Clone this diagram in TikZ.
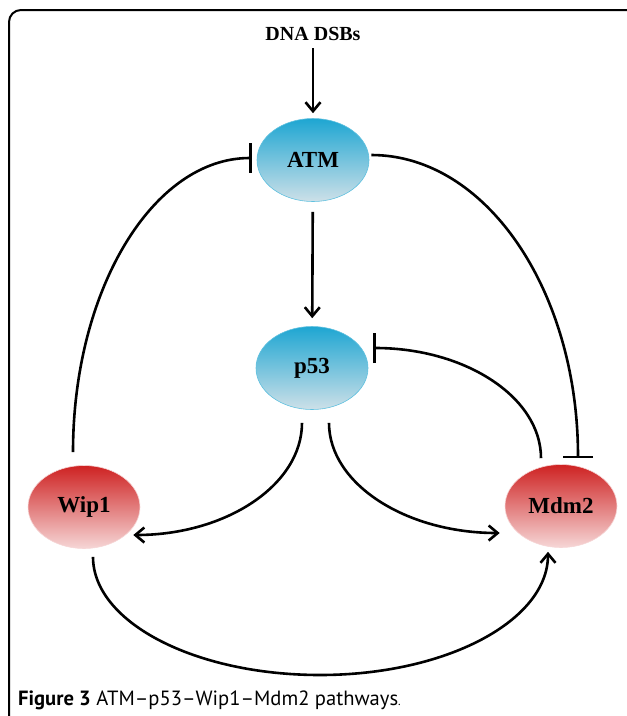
\documentclass[tikz,border=0pt]{standalone}
\usepackage{fontspec}
\setmainfont{Liberation Serif}
\newfontfamily\capfont{PT Sans}
\usepackage{tikz}
\usetikzlibrary{positioning,arrows.meta,calc,shapes.geometric}

\definecolor{bluetop}{RGB}{30,166,210}
\definecolor{bluemid}{RGB}{58,158,198}
\definecolor{bluebot}{RGB}{205,224,232}
\definecolor{redtop}{RGB}{206,34,34}
\definecolor{redmid}{RGB}{214,52,52}
\definecolor{redbot}{RGB}{246,214,214}

\tikzset{
  prot/.style={ellipse,minimum width=112pt,minimum height=83pt,inner sep=0pt,
    font=\fontsize{23}{26}\selectfont\bfseries},
  blueprot/.style={prot,draw=bluetop!70,line width=0.6pt,top color=bluetop,middle color=bluemid,bottom color=bluebot},
  redprot/.style={prot,draw=redbot,line width=0.6pt,top color=redtop,middle color=redmid,bottom color=redbot},
  act/.style={line width=2.6pt,-{Straight Barb[length=9pt,width=15pt]}},
  inh/.style={line width=2.6pt,-{Bar[width=30pt]}}
}

\begin{document}
\begin{tikzpicture}[x=1pt,y=-1pt]
  \useasboundingbox (0,0) rectangle (627,716);
  \draw[line width=2pt,rounded corners=12pt](9,717)--(9,10)--(628,10);
  % proteins
  \node[font=\fontsize{20}{24}\selectfont\bfseries] (dsb) at (313,34){DNA DSBs};
  \node[blueprot] (ATM) at (313,160){ATM};
  \node[blueprot] (p53) at (312,368){p53};
  \node[redprot] (Wip1) at (84,507){Wip1};
  \node[redprot] (Mdm2) at (561,506){Mdm2};
  % straight arrows
  \draw[act,shorten <=4pt,shorten >=5pt](dsb)--(ATM);
  \draw[act,shorten <=10pt,shorten >=8pt](ATM)--(p53);
  % feedback loops
  \draw[inh]([xshift=-11pt,yshift=13pt]Wip1.north) .. controls +(0,-162) and +(-99,0) .. ([xshift=-5pt,yshift=2pt]ATM.west);
  \draw[inh]([xshift=2pt,yshift=5pt]ATM.east) .. controls +(115,0) and +(0,-167) .. ([xshift=17pt,yshift=6pt]Mdm2.north);
  \draw[inh]([xshift=-20pt,yshift=6pt]Mdm2.north) .. controls +(0,-61) and +(92,0) .. ([xshift=5pt,yshift=20pt]p53.east);
  \draw[act]([xshift=-10pt,yshift=-13pt]p53.south) .. controls +(0,62) and +(93,0) .. ([xshift=-7pt,yshift=-28pt]Wip1.east);
  \draw[act]([xshift=17pt,yshift=-13pt]p53.south) .. controls +(0,61) and +(-94,0) .. ([xshift=-5pt,yshift=-27pt]Mdm2.west);
  \coordinate (low) at (320,675);
  \draw[act]([xshift=9pt,yshift=-8pt]Wip1.south) .. controls +(0,65) and +(-126,0) .. (low)
    .. controls +(126,0) and +(0,69) .. ([xshift=-13pt,yshift=-4pt]Mdm2.south);
  % caption
  \node[anchor=base west,inner sep=0pt,font=\capfont\fontsize{20.6}{24}\selectfont] (cap) at (18,705)
    {\textbf{Figure 3} ATM–p53–Wip1–Mdm2 pathways{\fontsize{12}{13}\selectfont.}};
\end{tikzpicture}
\end{document}
